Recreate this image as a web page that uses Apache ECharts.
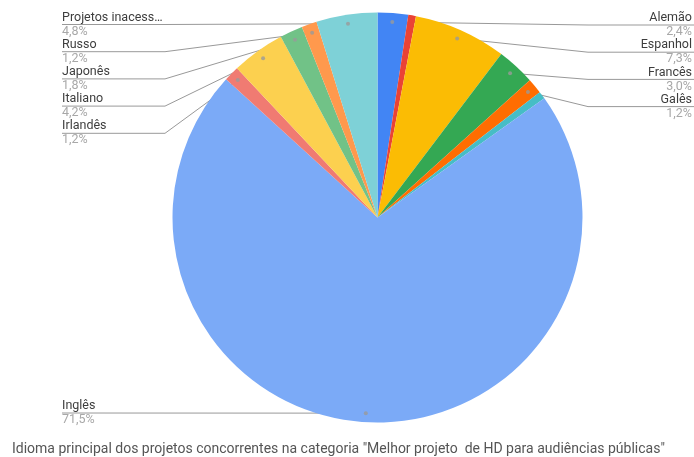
<!DOCTYPE html>
<html>
<head>
<meta charset="utf-8">
<script src="https://cdn.jsdelivr.net/npm/echarts@6/dist/echarts.min.js"></script>
<style>
  html, body { margin: 0; padding: 0; background: #ffffff; }
  #chart { width: 694px; height: 457px; }
</style>
</head>
<body>
<div id="chart"></div>
<script>
// Languages, in slice order (clockwise from 12 o'clock)
const idiomas = ['Alemão', 'Outro idioma 1', 'Espanhol', 'Francês', 'Galês', 'Outro idioma 2',
                 'Inglês', 'Irlandês', 'Italiano', 'Japonês', 'Russo', 'Projetos inacess…'];
// Share of projects, in percent
const percentuais = [2.4, 0.6, 7.3, 3.0, 1.2, 0.6, 71.5, 1.2, 4.2, 1.8, 1.2, 4.8];
const cores = ['#4285F4', '#EA4335', '#FBBC04', '#34A853', '#FF6D01', '#46BDC6',
               '#7BAAF7', '#F07B72', '#FCD04F', '#71C287', '#FF994D', '#7ED1D7'];
// Labelled slices, stacked from the top on each side
const rotulosDireita = ['Alemão', 'Espanhol', 'Francês', 'Galês'];
const rotulosEsquerda = ['Projetos inacess…', 'Russo', 'Japonês', 'Italiano', 'Irlandês'];
const rotulosBase = ['Inglês'];
const titulo = 'Idioma principal dos projetos concorrentes na categoria "Melhor projeto  de HD para audiências públicas"';

const CENTRO = [377.5, 217.5];
const RAIO = 205;
const RAIO_PONTO = 196;   // where leader lines start, inside the slices
const FONTE = 'Roboto, "Liberation Sans", Arial, sans-serif';

const rotulados = rotulosDireita.concat(rotulosEsquerda, rotulosBase);
const total = percentuais.reduce((a, b) => a + b, 0);
const fmtPct = v => v.toFixed(1).replace('.', ',') + '%';

// mid-angle (in value units) of each labelled slice, for the leader dots
const pontos = [];
let acumulado = 0;
percentuais.forEach((v, i) => {
  if (rotulados.indexOf(idiomas[i]) >= 0) pontos.push([RAIO_PONTO, acumulado + v / 2]);
  acumulado += v;
});

const fatias = idiomas.map((nome, i) => ({
  name: nome, value: percentuais[i], itemStyle: { color: cores[i] }
}));

const fatiasRotulo = idiomas.map((nome, i) => {
  const mostra = rotulados.indexOf(nome) >= 0;
  return {
    name: nome, value: percentuais[i],
    label: { show: mostra },
    labelLine: { show: mostra }
  };
});

function posicionaRotulo(p) {
  const nome = idiomas[p.dataIndex];
  const pts = p.labelLinePoints;
  if (!pts) return {};
  const p0 = pts[0];
  let k = rotulosDireita.indexOf(nome);
  if (k >= 0) {
    const y = 25 + k * 27.2;
    return { x: 692, y: y, labelLinePoints: [p0, [588, y], [694, y]] };
  }
  k = rotulosEsquerda.indexOf(nome);
  if (k >= 0) {
    const y = 24.5 + k * 27.2;
    return { x: 62, y: y, labelLinePoints: [p0, [165, y], [62, y]] };
  }
  const y = 413;
  return { x: 62, y: y, labelLinePoints: [p0, [62, y]] };
}

const chart = echarts.init(document.getElementById('chart'), null, { renderer: 'canvas' });
chart.setOption({
  animation: false,
  backgroundColor: '#ffffff',
  textStyle: { fontFamily: FONTE },
  title: {
    text: titulo,
    left: 12,
    top: 442,
    padding: 0,
    textStyle: { fontFamily: FONTE, fontSize: 14, fontWeight: 'normal', color: '#555555' }
  },
  polar: { center: CENTRO, radius: RAIO },
  angleAxis: { type: 'value', min: 0, max: total, startAngle: 90, clockwise: true, show: false },
  radiusAxis: { type: 'value', min: 0, max: RAIO, show: false },
  series: [
    {
      type: 'pie',
      center: CENTRO,
      radius: [0, RAIO],
      startAngle: 90,
      clockwise: true,
      silent: true,
      label: { show: false },
      labelLine: { show: false },
      emphasis: { disabled: true },
      data: fatias
    },
    {
      // transparent twin carrying the labels and leader lines
      type: 'pie',
      center: CENTRO,
      radius: [0, RAIO_PONTO],
      startAngle: 90,
      clockwise: true,
      silent: true,
      avoidLabelOverlap: false,
      itemStyle: { color: 'rgba(0,0,0,0)' },
      emphasis: { disabled: true },
      label: {
        position: 'outer',
        alignTo: 'edge',
        edgeDistance: 2,
        overflow: 'none',
        formatter: p => '{n|' + p.name + '}\n{p|' + fmtPct(p.value) + '}',
        rich: {
          n: { fontFamily: FONTE, fontSize: 12.5, color: '#3d3d3d', lineHeight: 14 },
          p: { fontFamily: FONTE, fontSize: 12.5, color: '#a8a8a8', lineHeight: 14 }
        }
      },
      labelLine: { show: true, length: 10, length2: 10, lineStyle: { color: '#999999', width: 1 } },
      labelLayout: posicionaRotulo,
      data: fatiasRotulo
    },
    {
      type: 'scatter',
      coordinateSystem: 'polar',
      silent: true,
      symbol: 'circle',
      symbolSize: 4,
      itemStyle: { color: '#9a9a9a' },
      z: 5,
      data: pontos
    }
  ]
});
</script>
</body>
</html>
